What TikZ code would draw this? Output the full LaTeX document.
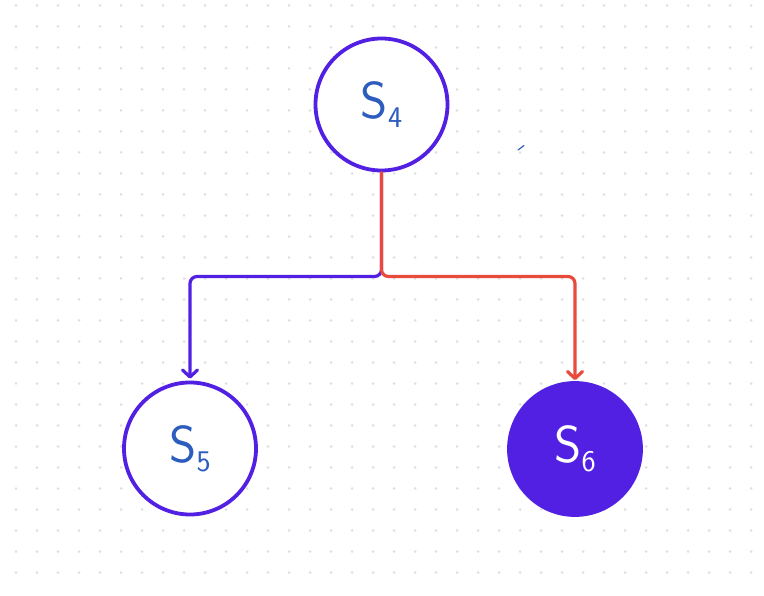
\documentclass[tikz,border=0pt]{standalone}
\usepackage{tikz}
\usetikzlibrary{positioning}
\usetikzlibrary{arrows.meta}
\usetikzlibrary{backgrounds}

\definecolor{violet}{RGB}{82,32,226}
\definecolor{penblue}{RGB}{44,92,190}
\definecolor{linered}{RGB}{232,74,60}
\definecolor{dotgray}{RGB}{224,224,224}

\newcommand{\slabel}[1]{{\fontsize{52}{52}\selectfont S}\raisebox{-9pt}{\fontsize{30}{30}\selectfont #1}}

\begin{document}
\begin{tikzpicture}[x=1pt,y=-1pt,
    state/.style={circle,draw=violet,line width=3.8pt,fill=white,inner sep=0pt,
      minimum size=132pt,text=penblue,font=\sffamily},
    done/.style={state,fill=violet,text=white},
    link/.style={line width=3.2pt,rounded corners=7pt,line cap=round,line join=round,
      -{Straight Barb[length=7pt,width=15pt,line cap=round,line join=round]}}]
  \useasboundingbox (0,0) rectangle (764,596);

  \node[state] (s4) at (381.5,104.5) {\slabel{4}};
  \node[state] (s5) at (190,448.5) {\slabel{5}};
  \node[done] (s6) at (575,449) {\slabel{6}};
  \coordinate (fork) at (381.5,276.5);

  % blue branch first, red on top of the shared stem
  \draw[link,violet] (s4.south) -- (fork) -| ([yshift=2pt]s5.north);
  \draw[link,linered] (s4.south) -- (fork) -| ([yshift=1pt]s6.north);

  % stray pen mark
  \draw[penblue,line width=1.2pt,line cap=round] (518,150) -- (524,145.5);

\begin{pgfonlayer}{background}
  % dotted paper
  \foreach \i in {0,...,35}
    \foreach \j in {0,...,27}
      \fill[dotgray] (16+21*\i,5.5+21*\j) circle (1.5pt);
\end{pgfonlayer}

\end{tikzpicture}
\end{document}
